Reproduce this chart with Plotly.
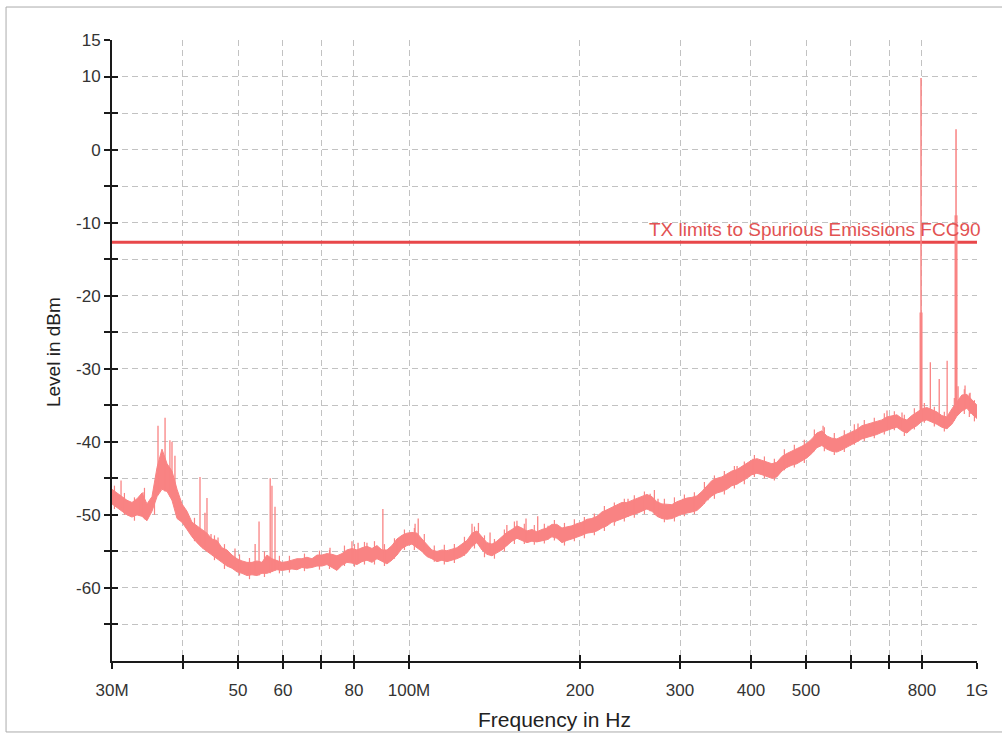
import math
import plotly.graph_objects as go

# ---- measured spectrum: noise band envelope (frequency in MHz, level in dBm) ----
band_mhz = [
    30.00, 30.61, 31.24, 31.88, 32.53, 33.20, 33.88, 34.57, 35.28, 36.01,
    36.74, 37.50, 38.26, 39.05, 39.84, 40.66, 41.49, 42.34, 43.21, 44.09,
    44.99, 45.91, 46.85, 47.81, 48.79, 49.79, 50.81, 51.85, 52.91, 53.99,
    55.10, 56.23, 57.38, 58.55, 59.75, 60.97, 62.22, 63.49, 64.80, 66.12,
    67.48, 68.86, 70.27, 71.71, 73.18, 74.67, 76.20, 77.76, 79.36, 80.98,
    82.64, 84.33, 86.06, 87.82, 89.62, 91.45, 93.32, 95.24, 97.18, 99.17,
    101.2, 103.3, 105.4, 107.5, 109.7, 112.0, 114.3, 116.6, 119.0, 121.4,
    123.9, 126.5, 129.1, 131.7, 134.4, 137.2, 140.0, 142.8, 145.7, 148.7,
    151.8, 154.9, 158.0, 161.3, 164.6, 167.9, 171.4, 174.9, 178.5, 182.1,
    185.9, 189.7, 193.5, 197.5, 201.6, 205.7, 209.9, 214.2, 218.6, 223.1,
    227.6, 232.3, 237.0, 241.9, 246.8, 251.9, 257.1, 262.3, 267.7, 273.2,
    278.8, 284.5, 290.3, 296.3, 302.3, 308.5, 314.8, 321.3, 327.8, 334.6,
    341.4, 348.4, 355.5, 362.8, 370.2, 377.8, 385.5, 393.4, 401.5, 409.7,
    418.1, 426.7, 435.4, 444.3, 453.4, 462.7, 472.1, 481.8, 491.7, 501.7,
    512.0, 522.5, 533.2, 544.1, 555.2, 566.6, 578.2, 590.0, 602.1, 614.4,
    627.0, 639.8, 652.9, 666.3, 679.9, 693.8, 708.1, 722.6, 737.4, 752.5,
    767.9, 783.6, 799.6, 816.0, 832.7, 849.7, 867.1, 884.9, 903.0, 921.5,
    940.4, 959.6, 979.3, 1000.0,
]

band_top_dbm = [
    -46.5, -47.0, -47.5, -48.0, -48.3, -47.8, -47.0, -48.5, -47.5, -43.5,
    -41.0, -43.0, -44.0, -46.5, -48.5, -49.5, -51.0, -51.5, -52.0, -52.5,
    -53.3, -53.5, -54.5, -54.8, -55.5, -56.0, -56.3, -56.5, -56.5, -56.3,
    -56.5, -55.5, -56.0, -56.2, -56.5, -56.4, -56.2, -56.0, -56.0, -55.8,
    -56.0, -55.5, -55.5, -55.3, -55.4, -55.6, -55.3, -54.8, -54.6, -54.8,
    -54.5, -54.3, -54.6, -54.2, -54.8, -54.8, -54.2, -53.3, -52.8, -52.5,
    -52.4, -52.5, -53.3, -54.0, -54.8, -55.0, -54.8, -54.9, -54.7, -54.5,
    -54.0, -53.5, -52.5, -52.2, -53.0, -53.8, -54.0, -53.6, -53.0, -52.4,
    -52.0, -51.5, -51.8, -52.2, -52.0, -52.3, -52.0, -51.8, -51.3, -51.3,
    -51.8, -51.7, -51.5, -51.2, -51.0, -50.6, -50.5, -50.2, -49.6, -49.3,
    -49.0, -48.7, -48.3, -48.3, -48.0, -47.8, -47.5, -47.2, -47.5, -48.2,
    -48.5, -48.5, -48.6, -48.2, -47.9, -47.7, -47.6, -47.4, -46.8, -46.0,
    -45.3, -45.0, -44.8, -44.4, -44.0, -43.8, -43.4, -43.0, -42.5, -42.3,
    -42.5, -42.7, -43.0, -42.8, -42.0, -41.6, -41.3, -41.0, -40.6, -40.2,
    -39.6, -38.8, -38.5, -39.2, -39.5, -39.6, -39.3, -39.0, -38.6, -38.3,
    -37.8, -37.6, -37.5, -37.3, -37.0, -36.6, -36.4, -36.3, -36.8, -37.0,
    -36.4, -36.0, -35.5, -35.3, -35.6, -35.9, -36.4, -36.6, -35.5, -34.5,
    -33.6, -33.5, -34.3, -35.0,
]

band_floor_dbm = [
    -48.5, -49.0, -49.5, -50.0, -50.3, -50.0, -50.2, -50.8, -49.5, -47.5,
    -46.5, -46.8, -48.0, -50.5, -51.0, -52.0, -53.0, -53.8, -54.5, -55.0,
    -55.5, -56.0, -56.5, -57.0, -57.3, -57.8, -58.0, -58.3, -58.2, -58.3,
    -58.0, -58.0, -57.8, -57.5, -57.6, -57.5, -57.4, -57.5, -57.2, -57.3,
    -57.2, -57.0, -57.0, -56.8, -57.2, -57.6, -56.9, -56.5, -56.6, -56.8,
    -56.4, -56.2, -56.5, -56.0, -56.3, -56.7, -56.2, -55.5, -54.6, -54.2,
    -54.0, -54.5, -55.0, -55.7, -56.0, -56.4, -56.2, -56.4, -56.2, -56.0,
    -55.7, -55.2, -54.3, -53.8, -54.8, -55.4, -55.6, -55.2, -54.8, -54.2,
    -53.6, -53.2, -53.5, -53.8, -53.6, -53.7, -53.5, -53.4, -53.0, -53.2,
    -53.8, -53.5, -53.3, -53.0, -52.8, -52.5, -52.4, -52.2, -51.8, -51.5,
    -51.0, -50.8, -50.5, -50.3, -50.0, -49.8, -49.5, -49.2, -49.5, -50.2,
    -50.5, -50.6, -50.5, -50.2, -49.9, -49.7, -49.6, -49.4, -48.8, -48.0,
    -47.4, -47.0, -46.8, -46.5, -46.0, -45.8, -45.4, -45.0, -44.5, -44.3,
    -44.5, -44.7, -45.0, -44.8, -44.0, -43.5, -43.2, -43.0, -42.6, -42.2,
    -41.6, -40.8, -40.5, -41.0, -41.3, -41.4, -41.1, -40.8, -40.4, -40.0,
    -39.6, -39.4, -39.2, -39.0, -38.7, -38.4, -38.2, -38.0, -38.5, -38.8,
    -38.2, -37.8, -37.2, -37.0, -37.3, -37.6, -38.0, -38.2, -37.6, -36.5,
    -35.8, -35.4, -36.2, -36.8,
]

# ---- short noise excursions between envelope samples ----
hair_mhz = [
    30.30, 31.55, 32.86, 34.22, 35.64, 41.91, 45.45, 47.33, 50.30, 52.38,
    55.66, 59.14, 61.59, 65.46, 69.56, 72.44, 76.98, 80.17, 83.48, 86.94,
    90.53, 94.28, 98.17, 102.2, 106.4, 110.8, 115.4, 120.2, 125.2, 130.4,
    135.8, 141.4, 147.2, 153.3, 159.6, 166.2, 173.1, 180.3, 187.8, 195.5,
    203.6, 212.0, 220.8, 229.9, 239.4, 249.3, 259.7, 270.4, 281.6, 293.3,
    305.4, 318.0, 331.2, 344.9, 359.1, 374.0, 389.4, 405.6, 422.4, 439.8,
    458.0, 476.9, 496.6, 517.2, 538.6, 560.8, 584.0, 608.2, 633.3, 659.5,
    686.8, 715.3, 744.9, 775.7, 807.8, 841.2, 876.0, 912.2, 949.9, 969.4,
    989.6,
]
hair_low_dbm = [
    -49.2, -50.0, -50.8, -50.6, -50.0, -53.6, -56.2, -57.4, -58.3, -58.8,
    -58.5, -58.0, -57.9, -57.7, -57.5, -57.4, -57.0, -57.1, -56.8, -56.8,
    -57.0, -56.0, -54.8, -54.8, -55.4, -56.4, -56.8, -56.6, -55.6, -54.6,
    -55.8, -56.0, -55.0, -54.0, -54.0, -54.1, -53.9, -53.5, -54.2, -53.6,
    -53.2, -52.8, -52.2, -51.5, -50.9, -50.4, -49.9, -50.0, -51.0, -50.9,
    -50.2, -49.9, -48.5, -47.8, -47.2, -46.4, -45.8, -44.8, -45.0, -45.3,
    -43.9, -43.5, -42.9, -41.3, -41.3, -41.8, -41.4, -40.4, -39.9, -39.5,
    -39.0, -38.4, -39.2, -38.3, -37.4, -37.9, -38.6, -37.1, -36.2, -36.6,
    -37.2,
]
hair_high_dbm = [
    -46.0, -47.0, -47.6, -46.3, -46.8, -50.4, -52.8, -54.0, -55.4, -55.9,
    -55.0, -55.6, -55.6, -55.3, -54.9, -54.8, -54.2, -54.0, -53.7, -53.6,
    -54.0, -53.2, -52.0, -51.8, -52.6, -54.2, -54.1, -54.0, -53.0, -51.6,
    -52.8, -53.3, -52.0, -50.9, -51.2, -51.4, -51.2, -50.7, -51.1, -50.6,
    -50.3, -49.8, -48.8, -48.3, -47.8, -47.3, -46.8, -46.6, -47.8, -47.6,
    -47.2, -46.9, -45.5, -44.6, -44.0, -43.3, -42.7, -41.8, -42.0, -42.3,
    -41.0, -40.4, -39.7, -38.3, -38.0, -38.8, -38.4, -37.6, -37.0, -36.7,
    -36.1, -35.8, -36.3, -35.4, -34.7, -35.2, -35.9, -34.0, -32.8, -33.4,
    -34.3,
]

# ---- narrow spurs above the noise band ----
spur_mhz = [
    31.12, 33.47, 34.02, 36.15, 37.20, 37.94, 38.26, 38.72, 42.86, 43.73,
    44.09, 44.82, 46.11, 49.39, 53.59, 54.45, 56.97, 57.38, 58.09, 72.60,
    79.36, 81.34, 84.33, 89.95, 95.24, 100.4, 102.5, 103.8, 129.1, 132.5,
    138.9, 148.7, 154.9, 160.7, 168.5, 175.7, 200.1, 210.9, 230.6, 243.0,
    265.8, 274.4, 303.7, 336.1, 378.1, 403.4, 420.0, 462.9, 522.5, 535.8,
    617.3, 694.3, 737.9, 827.6, 858.0, 886.0, 926.1, 952.7, 972.3,
]
spur_floor_dbm = [
    -49.0, -50.0, -50.2, -47.0, -46.8, -47.5, -48.0, -48.5, -54.0, -54.5,
    -55.0, -55.3, -56.0, -57.5, -58.2, -58.3, -58.0, -57.8, -57.6, -57.0,
    -56.6, -56.7, -56.2, -56.3, -55.5, -54.0, -54.2, -54.5, -54.3, -54.0,
    -55.5, -54.2, -53.2, -53.6, -53.7, -53.4, -52.8, -52.4, -51.0, -50.3,
    -49.5, -50.2, -49.9, -48.0, -45.8, -44.5, -44.5, -43.5, -40.8, -40.5,
    -40.0, -38.4, -38.5, -37.0, -37.6, -38.2, -36.3, -35.5, -36.2,
]
spur_peak_dbm = [
    -45.3, -47.7, -46.9, -37.8, -36.7, -39.8, -40.0, -41.9, -44.8, -49.7,
    -47.7, -52.6, -53.1, -54.6, -54.0, -50.9, -45.0, -46.0, -48.9, -54.5,
    -53.6, -53.8, -53.8, -49.2, -53.3, -52.5, -51.2, -50.5, -51.2, -51.1,
    -52.4, -51.4, -50.8, -50.5, -50.2, -51.5, -51.1, -50.4, -48.8, -47.8,
    -47.1, -47.8, -47.8, -46.3, -43.3, -42.3, -42.9, -42.2, -38.9, -37.8,
    -37.5, -35.7, -36.0, -29.1, -31.4, -28.9, -32.4, -32.3, -33.3,
]

# ---- transmitter carriers ----
carrier_mhz = [797.0, 918.5]
carrier_floor_dbm = [-37.0, -36.0]
carrier_shoulder_dbm = [-22.3, -9.0]
carrier_peak_dbm = [9.8, 2.8]

# ---- limit line ----
limit_dbm = -12.7
limit_label = "TX limits to Spurious Emissions FCC90"

# ---- axis ticks ----
x_tick_mhz = [30, 40, 50, 60, 70, 80, 100, 200, 300, 400, 500, 600, 700, 800, 1000]
x_tick_text = ["30M", "", "50", "60", "", "80", "100M", "200", "300", "400", "500", "", "", "800", "1G"]
y_tick_vals = [15, 10, 5, 0, -5, -10, -15, -20, -25, -30, -35, -40, -45, -50, -55, -60, -65]
y_tick_text = ["15", "10", "", "0", "", "-10", "", "-20", "", "-30", "", "-40", "", "-50", "", "-60", ""]

f_min_hz, f_max_hz = 30e6, 1e9
y_min, y_max = -70, 15

TRACE = "#F98383"
LIMIT = "#E8474A"
AXIS = "#1a1a1a"
GRID = "#c2c2c2"
FONT = "Liberation Sans, Arial, sans-serif"

MHZ = 1e6


def segments(xs, y0s, y1s):
    """Vertical segments separated by gaps, x in Hz."""
    sx, sy = [], []
    for f, a, b in zip(xs, y0s, y1s):
        sx += [f * MHZ, f * MHZ, None]
        sy += [a, b, None]
    return sx, sy


fig = go.Figure()

# limit line (under the spectrum)
fig.add_trace(go.Scatter(
    x=[f_min_hz, f_max_hz], y=[limit_dbm, limit_dbm], mode="lines",
    line=dict(color=LIMIT, width=3), hoverinfo="skip", showlegend=False))

# noise band as a filled envelope
band_x = [f * MHZ for f in band_mhz] + [f * MHZ for f in band_mhz[::-1]]
band_y = band_top_dbm + band_floor_dbm[::-1]
fig.add_trace(go.Scatter(
    x=band_x, y=band_y, mode="lines", fill="toself", fillcolor=TRACE,
    line=dict(color=TRACE, width=1), hoverinfo="skip", showlegend=False))

# noise excursions
hx, hy = segments(hair_mhz, hair_low_dbm, hair_high_dbm)
fig.add_trace(go.Scatter(
    x=hx, y=hy, mode="lines", line=dict(color=TRACE, width=1.2),
    hoverinfo="skip", showlegend=False))

# spurs
sx, sy = segments(spur_mhz, spur_floor_dbm, spur_peak_dbm)
fig.add_trace(go.Scatter(
    x=sx, y=sy, mode="lines", line=dict(color=TRACE, width=1.3),
    hoverinfo="skip", showlegend=False))

# carriers: thin full-height line plus a wider base
cx, cy = segments(carrier_mhz, carrier_floor_dbm, carrier_peak_dbm)
fig.add_trace(go.Scatter(
    x=cx, y=cy, mode="lines", line=dict(color=TRACE, width=1.5),
    hoverinfo="skip", showlegend=False))
kx, ky = segments(carrier_mhz, carrier_floor_dbm, carrier_shoulder_dbm)
fig.add_trace(go.Scatter(
    x=kx, y=ky, mode="lines", line=dict(color=TRACE, width=3),
    hoverinfo="skip", showlegend=False))

# helper trace so the overlay axes (inner tick marks) are drawn
fig.add_trace(go.Scatter(
    x=[f_min_hz], y=[y_min], xaxis="x2", yaxis="y2", mode="markers",
    marker=dict(opacity=0), hoverinfo="skip", showlegend=False))

x_range = [math.log10(f_min_hz), math.log10(f_max_hz)]
x_ticks_hz = [v * MHZ for v in x_tick_mhz]

common_tick = dict(ticklen=6, tickwidth=1.5, tickcolor=AXIS)

fig.update_layout(
    width=1002, height=733,
    margin=dict(l=112, r=25, t=40, b=72),
    paper_bgcolor="white", plot_bgcolor="white",
    font=dict(family=FONT, color="#333333"),
    xaxis=dict(
        type="log", range=x_range, tickmode="array",
        tickvals=x_ticks_hz, ticktext=x_tick_text,
        ticks="outside", **common_tick,
        showline=True, linecolor=AXIS, linewidth=2,
        showgrid=True, gridcolor=GRID, gridwidth=1, griddash="6px,4px",
        zeroline=False, tickfont=dict(size=17, color="#333333"),
        ticklabelstandoff=7,
    ),
    yaxis=dict(
        range=[y_min, y_max], tickmode="array",
        tickvals=y_tick_vals, ticktext=y_tick_text,
        ticks="outside", **common_tick,
        showline=True, linecolor=AXIS, linewidth=2,
        showgrid=True, gridcolor=GRID, gridwidth=1, griddash="6px,4px",
        zeroline=False, tickfont=dict(size=17, color="#333333"),
    ),
    xaxis2=dict(
        type="log", range=x_range, overlaying="x", anchor="y", side="bottom",
        tickmode="array", tickvals=x_ticks_hz, ticks="inside", **common_tick,
        showticklabels=False, showgrid=False, showline=False, zeroline=False,
    ),
    yaxis2=dict(
        range=[y_min, y_max], overlaying="y", anchor="x", side="left",
        tickmode="array", tickvals=y_tick_vals, ticks="inside", **common_tick,
        showticklabels=False, showgrid=False, showline=False, zeroline=False,
    ),
    annotations=[
        dict(text=limit_label, xref="paper", yref="y", x=1.0069, y=limit_dbm,
             xanchor="right", yanchor="bottom", showarrow=False,
             font=dict(size=19, color="#E25252", family=FONT)),
        dict(text="Frequency in Hz", xref="paper", yref="paper",
             x=0.511, y=-0.095, xanchor="center", yanchor="middle",
             showarrow=False, font=dict(size=21, color="#222222", family=FONT)),
        dict(text="Level in dBm", xref="paper", yref="paper",
             x=-0.067, y=0.4976, xanchor="center", yanchor="middle",
             textangle=-90, showarrow=False,
             font=dict(size=19, color="#222222", family=FONT)),
    ],
    shapes=[
        dict(type="rect", xref="paper", yref="paper",
             x0=-0.1225, x1=1.032, y0=-0.1143, y1=1.0531,
             line=dict(color="#ababab", width=1), layer="below"),
    ],
)

fig.write_html("out.html")
